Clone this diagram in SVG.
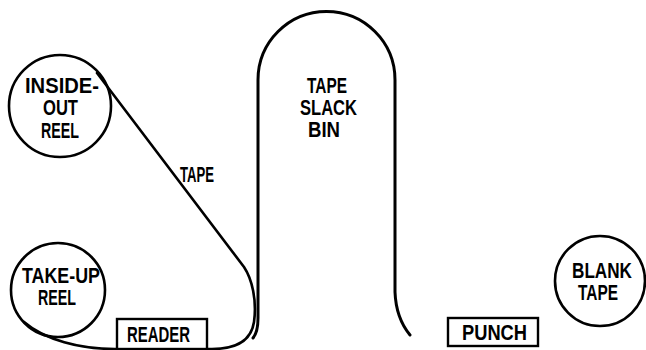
<svg xmlns="http://www.w3.org/2000/svg" width="646" height="350" viewBox="0 0 646 350">
<style>
.ln{fill:none;stroke:#000;stroke-width:2.6;stroke-linecap:round;stroke-linejoin:round}
.box{fill:#fff;stroke:#000;stroke-width:2.4}
.t{font-family:"Liberation Sans",Arial,sans-serif;font-weight:bold;font-size:21.5px;fill:#000}
</style>
<rect width="646" height="350" fill="#fff"/>
<g id="connectors">
<path class="ln" d="M 97,73 L 244,267 C 252,279 257,300 254,322 C 251,342 235,349 212,349 L 115,349 C 80,349 45,340 24,322"/>
<text class="t" x="180" y="182" textLength="34" lengthAdjust="spacingAndGlyphs">TAPE</text>
</g>
<g id="inside-out-reel">
<circle class="ln" cx="60" cy="106" r="51"/>
<text class="t" x="25" y="93" textLength="74" lengthAdjust="spacingAndGlyphs">INSIDE-</text>
<text class="t" x="43" y="115" textLength="35" lengthAdjust="spacingAndGlyphs">OUT</text>
<text class="t" x="41" y="138" textLength="38" lengthAdjust="spacingAndGlyphs">REEL</text>
</g>
<g id="take-up-reel">
<circle class="ln" cx="58" cy="290" r="47"/>
<text class="t" x="22" y="283" textLength="78" lengthAdjust="spacingAndGlyphs">TAKE-UP</text>
<text class="t" x="38" y="305" textLength="38" lengthAdjust="spacingAndGlyphs">REEL</text>
</g>
<g id="reader">
<rect class="box" x="117" y="319" width="90" height="30"/>
<text class="t" x="127" y="342" textLength="63" lengthAdjust="spacingAndGlyphs">READER</text>
</g>
<g id="tape-slack-bin">
<path class="ln" d="M 253,338 Q 258,332 258,318 L 258,80 A 68.5,68.5 0 0 1 395,80 L 395,292 Q 396,318 410,335" style="stroke-width:3"/>
<text class="t" x="307" y="93" textLength="40" lengthAdjust="spacingAndGlyphs">TAPE</text>
<text class="t" x="300" y="115" textLength="57" lengthAdjust="spacingAndGlyphs">SLACK</text>
<text class="t" x="308" y="137" textLength="32" lengthAdjust="spacingAndGlyphs">BIN</text>
</g>
<g id="punch">
<rect class="box" x="448" y="318" width="90" height="28"/>
<text class="t" x="462" y="340" textLength="65" lengthAdjust="spacingAndGlyphs">PUNCH</text>
</g>
<g id="blank-tape">
<circle class="ln" cx="600" cy="281" r="45"/>
<text class="t" x="572" y="278" textLength="60" lengthAdjust="spacingAndGlyphs">BLANK</text>
<text class="t" x="578" y="300" textLength="40" lengthAdjust="spacingAndGlyphs">TAPE</text>
</g>
</svg>
